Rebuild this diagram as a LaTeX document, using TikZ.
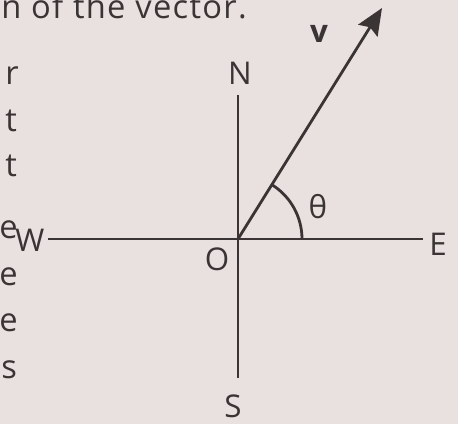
\documentclass[tikz,border=0pt]{standalone}
\usepackage{fontspec}
\setmainfont{Open Sans}
\usetikzlibrary{arrows.meta,calc}
\definecolor{paper}{HTML}{E9E1E0}
\definecolor{ink}{HTML}{3A3434}
\begin{document}
\begin{tikzpicture}[x=0.75pt,y=-0.75pt,
  lbl/.style={text=ink,font=\fontsize{23.5}{27}\selectfont,inner sep=0pt},
  page/.style={text=ink,font=\fontsize{24.5}{28}\selectfont,inner sep=0pt},
  axis/.style={draw=ink,line width=2.1pt},
  vec/.style={draw=ink,line width=2.1pt,-{Stealth[length=20pt,width=17pt,inset=3pt]}}]
\fill[paper] (0,0) rectangle (458,424);
\useasboundingbox (0,0) rectangle (458,424);
% page text fragments
\node[page,anchor=base east] (toptext) at (247,19) {\addfontfeature{LetterSpace=4}n of the vector.};
\node[page,anchor=base west] (l1) at (5,85) {r};
\node[page,anchor=base west] (l2) at (5,132) {t};
\node[page,anchor=base west] (l3) at (5,177) {t};
\node[page,anchor=base west] (l4) at (-1,239) {e};
\node[page,anchor=base west] (l5) at (-1,286) {e};
\node[page,anchor=base west] (l6) at (-1,332) {e};
\node[page,anchor=base west] (l7) at (1,379) {s};
% diagram
\coordinate (O) at (238,239);
\coordinate (ntop) at (238,95);
\coordinate (sbot) at (238,378);
\coordinate (wend) at (48,239);
\coordinate (eend) at (423,239);
\coordinate (tip) at (382,8);
\draw[axis] (ntop) -- (sbot);
\draw[axis] (wend) -- (eend);
\draw[vec] (O) -- (tip);
\draw[axis] ($(O)+(64,0)$) arc[start angle=0,end angle=-58.1,radius=64];
\node[lbl] (N) at (240,73) {N};
\node[lbl] (S) at (233,406) {S};
\node[lbl] (W) at (30,240) {W};
\node[lbl] (E) at (438,244) {E};
\node[lbl] (Olab) at (217,259) {O};
\node[lbl] (v) at (319,34) {\bfseries v};
\node[lbl] (th) at (318,207) {θ};
\end{tikzpicture}
\end{document}
